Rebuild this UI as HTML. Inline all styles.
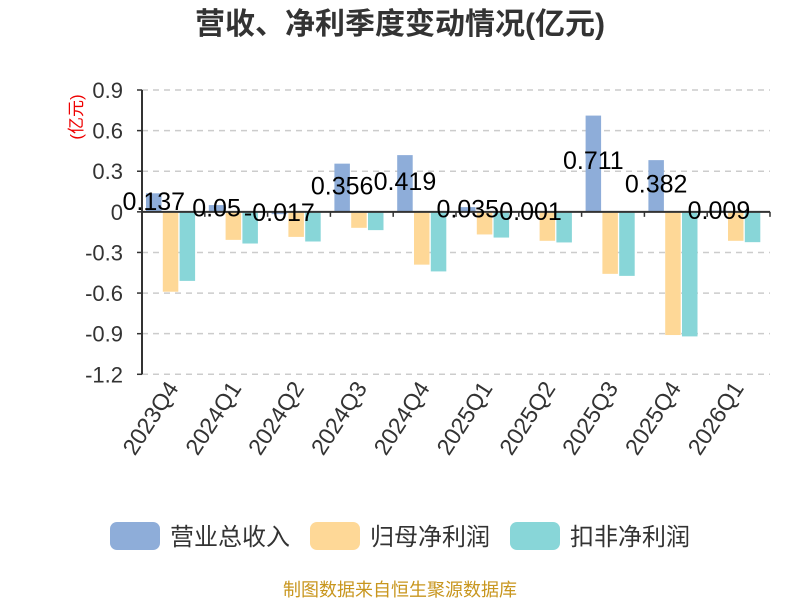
<!DOCTYPE html>
<html><head><meta charset="utf-8"><style>body{margin:0;background:#fff}svg{display:block}</style></head>
<body>
<svg id="c" width="800" height="600" xmlns="http://www.w3.org/2000/svg" font-family="'Liberation Sans','Noto Sans CJK SC',sans-serif">
<text x="400" y="34" text-anchor="middle" font-size="30" font-weight="bold" fill="#333">营收、净利季度变动情况(亿元)</text>
<text transform="translate(82,117) rotate(-90)" text-anchor="middle" font-size="17" fill="#e00">(亿元)</text>
<g id="grid"></g><g id="bars"></g><g id="axes"></g><g id="labels"></g>
<g>
<rect x="110" y="522" width="50" height="28" rx="7" fill="#8eadd9"/>
<text x="170" y="545" font-size="24" fill="#333">营业总收入</text>
<rect x="310" y="522" width="50" height="28" rx="7" fill="#fed897"/>
<text x="370" y="545" font-size="24" fill="#333">归母净利润</text>
<rect x="510" y="522" width="50" height="28" rx="7" fill="#88d6d8"/>
<text x="570" y="545" font-size="24" fill="#333">扣非净利润</text>
</g>
<text x="400" y="596" text-anchor="middle" font-size="18" fill="#c8961e">制图数据来自恒生聚源数据库</text>
</svg>
<script>
const categories=["2023Q4","2024Q1","2024Q2","2024Q3","2024Q4","2025Q1","2025Q2","2025Q3","2025Q4","2026Q1"];
const revenue=[0.137,0.05,-0.017,0.356,0.419,0.035,0.001,0.711,0.382,0.009];
const netProfit=[-0.59,-0.207,-0.185,-0.118,-0.39,-0.167,-0.214,-0.458,-0.91,-0.214];
const deductedProfit=[-0.51,-0.234,-0.219,-0.135,-0.44,-0.19,-0.226,-0.473,-0.92,-0.224];
const yTicks=[0.9,0.6,0.3,0,-0.3,-0.6,-0.9,-1.2];
const NS="http://www.w3.org/2000/svg";
const X0=142,X1=770,Y0=90,Y1=374.3,VMAX=0.9,VMIN=-1.2;
const band=(X1-X0)/categories.length;
const y=v=>Y0+(VMAX-v)/(VMAX-VMIN)*(Y1-Y0);
const xb=i=>X0+i*band;
function mk(t,a,p){const e=document.createElementNS(NS,t);for(const k in a)e.setAttribute(k,a[k]);document.getElementById(p).appendChild(e);return e;}
yTicks.forEach(v=>{
 const l=mk('line',{x1:X0,x2:X1,y1:y(v),y2:y(v),stroke:'#ccc','stroke-width':1.5,'stroke-dasharray':v===0?'':'6,5'},'grid');
 
 
 const t=mk('text',{x:X0-19,y:y(v)+8,'text-anchor':'end','font-size':22,fill:'#333'},'axes');
 t.textContent=String(v);
 
 
 const tk=mk('line',{x1:X0-5,x2:X0,y1:y(v),y2:y(v),stroke:'#333','stroke-width':1.5},'axes');
 
 
});
const ya=mk('line',{x1:X0,x2:X0,y1:Y0,y2:Y1,stroke:'#333','stroke-width':2},'axes');


const xa=mk('line',{x1:X0,x2:X1,y1:y(0),y2:y(0),stroke:'#333','stroke-width':2},'axes');


const series=[[revenue,'#8eadd9','bar-revenue'],[netProfit,'#fed897','bar-net-profit'],[deductedProfit,'#88d6d8','bar-deducted-profit']];
const bw=15.5,gap=1.3,off=4;
categories.forEach((c,i)=>{
 const tk=mk('line',{x1:xb(i+1),x2:xb(i+1),y1:y(0),y2:y(0)+5,stroke:'#333','stroke-width':1.5},'axes');
 
 
 const cx=xb(i)+band/2;
 const t=mk('text',{transform:`translate(${cx+6},388) rotate(-57)`,'text-anchor':'end','font-size':23,fill:'#333'},'axes');
 t.textContent=c;
 
 
 series.forEach((s,k)=>{
  const v=s[0][i],x=xb(i)+off+k*(bw+gap);
  const r=mk('rect',{x:x,width:bw,y:Math.min(y(v),y(0)),height:Math.abs(y(v)-y(0)),fill:s[1]},'bars');
  
  
 });
 const v=revenue[i],bx=xb(i)+off+bw/2;
 const ly=y(0)-0.53*(y(0)-y(v))+8;
 const lt=mk('text',{x:bx,y:ly,'text-anchor':'middle','font-size':25,fill:'#000'},'labels');
 lt.textContent=String(v);
 
 
});
</script>
</body></html>
